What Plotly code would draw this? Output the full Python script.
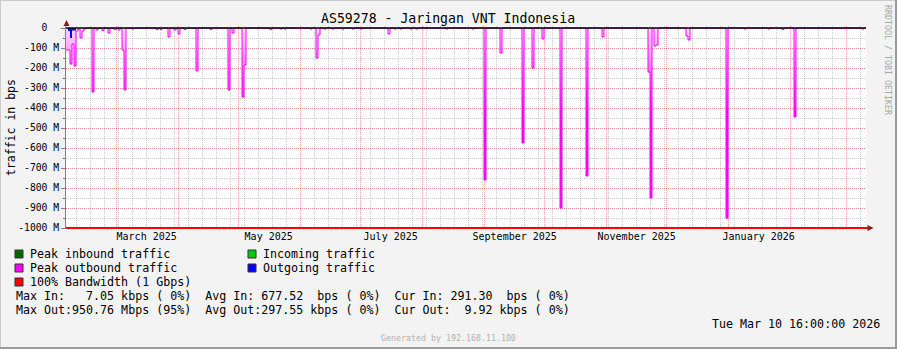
import pandas as pd
import plotly.graph_objects as go

# ---------------- data ----------------
title_text = "AS59278 - Jaringan VNT Indonesia"
y_title = "traffic in bps"
t_start = "2025-02-03 16:00"
t_end = "2026-03-10 16:00"

peak_out_dates = [
    "2025-02-03", "2025-02-04", "2025-02-05", "2025-02-06", "2025-02-07", "2025-02-08", "2025-02-09", "2025-02-10", "2025-02-11", "2025-02-12",
    "2025-02-16", "2025-02-18", "2025-02-21", "2025-02-24", "2025-02-27", "2025-03-01", "2025-03-03", "2025-03-04", "2025-03-08",
    "2025-03-20", "2025-03-22", "2025-03-26", "2025-03-29", "2025-03-31", "2025-04-03", "2025-04-09", "2025-04-16", "2025-04-25", "2025-04-27",
    "2025-05-02", "2025-05-03", "2025-05-16", "2025-05-21", "2025-05-23",
    "2025-06-05", "2025-06-08", "2025-06-09", "2025-06-12", "2025-06-16", "2025-06-21", "2025-06-26", "2025-06-30",
    "2025-07-14", "2025-07-17", "2025-07-20", "2025-07-25", "2025-07-28",
    "2025-08-12", "2025-08-25", "2025-08-31",
    "2025-09-08", "2025-09-19", "2025-09-24", "2025-09-29",
    "2025-10-08", "2025-10-21", "2025-10-29",
    "2025-11-21", "2025-11-22", "2025-11-24", "2025-11-25",
    "2025-12-10", "2025-12-11", "2025-12-30",
    "2026-01-08", "2026-01-20", "2026-01-27", "2026-02-02", "2026-03-08",
]
peak_out_mbps = [
    -110, -110, -180, -80, -190, -15, -5, -50, -15, -5,
    -320, -10, -12, -25, -8, -10, -110, -310, -5,
    -8, -8, -45, -10, -30, -8, -215, -8, -310, -25,
    -345, -185, -8, -5, -5,
    -5, -150, -35, -5, -5, -5, -5, -5,
    -30, -5, -5, -5, -5,
    -5, -5, -760,
    -125, -575, -200, -55,
    -900, -740, -45,
    -220, -850, -90, -85,
    -40, -60, -950.76,
    -5, -5, -8, -445, -5,
]
out_dates = ["2025-02-04", "2025-02-05", "2025-02-06", "2025-02-07", "2025-10-21"]
out_mbps = [-15, -50, -12, -12, -3]
bandwidth_mbps = 1000

y_tick_vals = [0, -100, -200, -300, -400, -500, -600, -700, -800, -900, -1000]
y_tick_text = ["0  ", "-100 M", "-200 M", "-300 M", "-400 M", "-500 M", "-600 M",
               "-700 M", "-800 M", "-900 M", "-1000 M"]
x_label_dates = ["2025-03-16", "2025-05-16", "2025-07-16", "2025-09-16", "2025-11-16", "2026-01-16"]
x_label_text = ["March 2025", "May 2025", "July 2025", "September 2025", "November 2025", "January 2026"]

legend_names = ["Peak inbound traffic", "Incoming traffic", "Peak outbound traffic",
                "Outgoing traffic", "100% Bandwidth (1 Gbps)"]
legend_colors = ["#006600", "#00CC00", "#FF00FF", "#0000FF", "#FF0000"]
stats_lines = [
    "Max In:   7.05 kbps ( 0%)  Avg In: 677.52  bps ( 0%)  Cur In: 291.30  bps ( 0%)",
    "Max Out:950.76 Mbps (95%)  Avg Out:297.55 kbps ( 0%)  Cur Out:  9.92 kbps ( 0%)",
]
date_text = "Tue Mar 10 16:00:00 2026"
generated_text = "Generated by 192.168.11.100"
side_text = "RRDTOOL / TOBI OETIKER"

# ---------------- build daily series ----------------
idx = pd.date_range(t_start, t_end, freq="D")
keys = list(idx.strftime("%Y-%m-%d"))


def daily(dates, vals):
    m = dict(zip(dates, vals))
    return [m.get(k, 0.0) for k in keys]


peak_out = daily(peak_out_dates, peak_out_mbps)
outgoing = daily(out_dates, out_mbps)

# ---------------- layout geometry ----------------
W, H = 897, 349
ML, MR, MT, MB = 66, 31, 26, 120
PW, PH = W - ML - MR, H - MT - MB
FONT = "DejaVu Sans Mono"
TXT = 11.65


def xp(px):
    return (px - ML) / PW


def yp(py):
    return (H - MB - py) / PH


fig = go.Figure()

fig.add_trace(go.Scatter(
    x=idx, y=peak_out, mode="lines",
    line=dict(color="#FF00FF", width=1, shape="hv"),
    fill="tozeroy",
    fillgradient=dict(type="vertical", colorscale=[[0, "#FF00FF"], [1, "#FFD8FF"]],
                      start=-450, stop=0),
    hoverinfo="skip", showlegend=False,
))
fig.add_trace(go.Scatter(
    x=idx, y=outgoing, mode="lines",
    line=dict(color="#0000FF", width=0, shape="hv"),
    fill="tozeroy", fillcolor="#0000FF",
    hoverinfo="skip", showlegend=False,
))
fig.add_trace(go.Scatter(
    x=[t_start, t_end], y=[-bandwidth_mbps, -bandwidth_mbps], xaxis="x2",
    mode="lines", line=dict(color="#FF0000", width=2),
    hoverinfo="skip", showlegend=False,
))

major_grid = "rgba(230,60,60,0.42)"
minor_grid = "rgba(150,150,150,0.45)"

fig.update_layout(
    width=W, height=H,
    margin=dict(l=ML, r=MR, t=MT, b=MB, pad=0),
    paper_bgcolor="#F3F3F3", plot_bgcolor="#FFFFFF",
    font=dict(family=FONT, color="#000000"),
    xaxis=dict(
        type="date", range=[t_start, t_end],
        dtick="M1", tick0="2025-01-01",
        showgrid=True, gridcolor=major_grid, griddash="1px,1px", gridwidth=1,
        showticklabels=False, ticks="", zeroline=False, showline=False,
        minor=dict(dtick=7 * 86400000, tick0="2025-02-02", showgrid=True,
                   gridcolor=minor_grid, griddash="1px,1px", ticks=""),
    ),
    xaxis2=dict(
        type="date", range=[t_start, t_end], overlaying="x", side="bottom",
        tickmode="array", tickvals=x_label_dates, ticktext=x_label_text,
        showgrid=False, ticks="", zeroline=False, showline=False,
        tickfont=dict(family=FONT, size=10, color="#000000"),
    ),
    yaxis=dict(
        range=[-1005, 10],
        tickmode="array", tickvals=y_tick_vals,
        ticktext=[t.replace(" ", "\u00a0") for t in y_tick_text],
        tickfont=dict(family=FONT, size=9.7, color="#000000"),
        showgrid=True, gridcolor=major_grid, griddash="1px,1px",
        ticks="outside", ticklen=4, tickcolor="#808080",
        showline=True, linecolor="#808080", linewidth=1,
        zeroline=False,
        minor=dict(tick0=0, dtick=50, showgrid=True, gridcolor=minor_grid,
                   griddash="1px,1px", ticks="outside", ticklen=2, tickcolor="#808080"),
    ),
    showlegend=False,
)

ann = []


def text(px, py, s, size=TXT, color="#000000", xanchor="left", angle=0):
    shift = {"left": -2, "right": 2, "center": 0}[xanchor]
    ann.append(dict(x=xp(px + shift), y=yp(py), xref="paper", yref="paper",
                    text=s.replace(" ", "\u00a0"), showarrow=False,
                    xanchor=xanchor, yanchor="middle", textangle=angle,
                    font=dict(family=FONT, size=size, color=color)))


text(448, 19, title_text, size=13.2, xanchor="center")
text(11, 127, y_title, size=11.5, xanchor="center", angle=-90)
text(888, 60, side_text, size=8.3, color="#A8A8A8", xanchor="center", angle=90)

shapes = []
# black zero line on top of the traces
shapes.append(dict(type="line", xref="paper", yref="y", x0=0, x1=1, y0=0, y1=0,
                   line=dict(color="#000000", width=1.5)))

rows = [(0, 15, 254), (1, 248, 254), (2, 15, 268), (3, 248, 268), (4, 15, 282)]
for i, sx, sy in rows:
    shapes.append(dict(type="rect", xref="paper", yref="paper",
                       x0=xp(sx), x1=xp(sx + 8), y0=yp(sy - 4), y1=yp(sy + 4),
                       fillcolor=legend_colors[i], line=dict(color="#333333", width=1)))
    text(sx + 15, sy, legend_names[i])

text(16, 296, stats_lines[0])
text(16, 310, stats_lines[1])
text(880, 324, date_text, xanchor="right")
text(448.5, 338, generated_text, size=8.3, color="#B4B4B4", xanchor="center")

# arrows
arrow_col = "#8A1C1C"
shapes.append(dict(type="path", xref="paper", yref="paper",
                   path=f"M {xp(63.5)},{yp(26)} L {xp(66.5)},{yp(20)} L {xp(69.5)},{yp(26)} Z",
                   fillcolor=arrow_col, line=dict(width=0)))
shapes.append(dict(type="path", xref="paper", yref="paper",
                   path=f"M {xp(867.5)},{yp(225)} L {xp(873.5)},{yp(228)} L {xp(867.5)},{yp(231)} Z",
                   fillcolor=arrow_col, line=dict(width=0)))
shapes.append(dict(type="line", xref="paper", yref="y",
                   x0=1.0, x1=xp(868), y0=-bandwidth_mbps, y1=-bandwidth_mbps,
                   line=dict(color="#FF0000", width=2)))

# frame shading
shapes += [
    dict(type="rect", xref="paper", yref="paper", x0=xp(0), x1=xp(W), y0=yp(H - 2), y1=yp(H),
         fillcolor="#9A9A9A", line=dict(width=0)),
    dict(type="rect", xref="paper", yref="paper", x0=xp(W - 2), x1=xp(W), y0=yp(H), y1=yp(0),
         fillcolor="#9A9A9A", line=dict(width=0)),
    dict(type="rect", xref="paper", yref="paper", x0=xp(0), x1=xp(W - 2), y0=yp(1), y1=yp(0),
         fillcolor="#CBCBCB", line=dict(width=0)),
    dict(type="rect", xref="paper", yref="paper", x0=xp(0), x1=xp(1), y0=yp(H - 2), y1=yp(0),
         fillcolor="#CBCBCB", line=dict(width=0)),
]

fig.update_layout(annotations=ann, shapes=shapes)
fig.write_html("out.html")
